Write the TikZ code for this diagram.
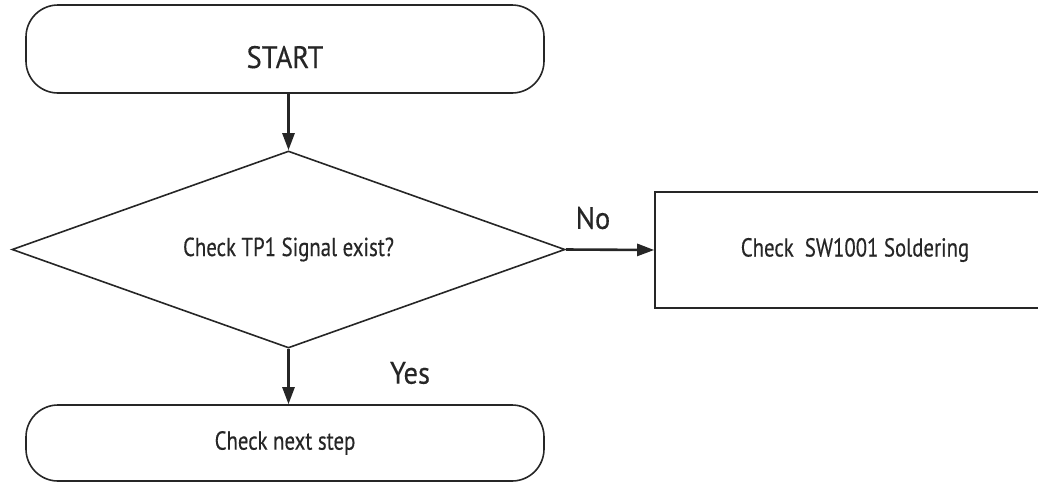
\documentclass[tikz,border=0pt]{standalone}
\usepackage{fontspec}
\setmainfont[FakeStretch=0.8,FakeBold=0.4]{PT Sans}
\newfontfamily\bigfont[FakeStretch=0.92,FakeBold=0.4]{PT Sans}
\usetikzlibrary{shapes.geometric,arrows.meta}
\tikzset{
  box/.style={draw=black!85, line width=1.6pt, inner sep=0pt, align=center},
  term/.style={box, rectangle, rounded corners=32pt},
  decision/.style={box, diamond, aspect=2.8},
  proc/.style={box, rectangle},
  big/.style={font=\bigfont\fontsize{31}{32}\selectfont, text=black!85},
  small/.style={font=\fontsize{26}{27}\selectfont, text=black!85},
  flow/.style={line width=2.6pt, draw=black!85, -{Triangle[length=17pt,width=12pt]}},
  lbl/.style={big, inner sep=0pt}
}
\begin{document}
\begin{tikzpicture}[x=1pt,y=-1pt]
\useasboundingbox (0,0) rectangle (1038,483);
\clip (0,0) rectangle (1038,483);
\node[term, big, minimum width=518pt, minimum height=88pt] (start) at (285,49) {\raisebox{-19pt}[0pt][0pt]{START}};
\node[decision, small, minimum width=553pt, minimum height=197pt] (dec) at (288.5,249.5) {Check TP1 Signal exist?};
\node[proc, small, minimum width=400pt, minimum height=116pt] (sw) at (855,250) {Check\ \ SW1001 Soldering};
\node[term, small, minimum width=518pt, minimum height=76pt] (next) at (285,443) {Check next step};
\draw[flow] (start.south -| dec.north) -- (dec.north);
\draw[flow] (dec.east) -- (sw.west);
\draw[flow] (dec.south) -- (dec.south |- next.north);
\node[lbl] (no) at (593,218) {No};
\node[lbl] (yes) at (410,373) {Yes};
\end{tikzpicture}
\end{document}
